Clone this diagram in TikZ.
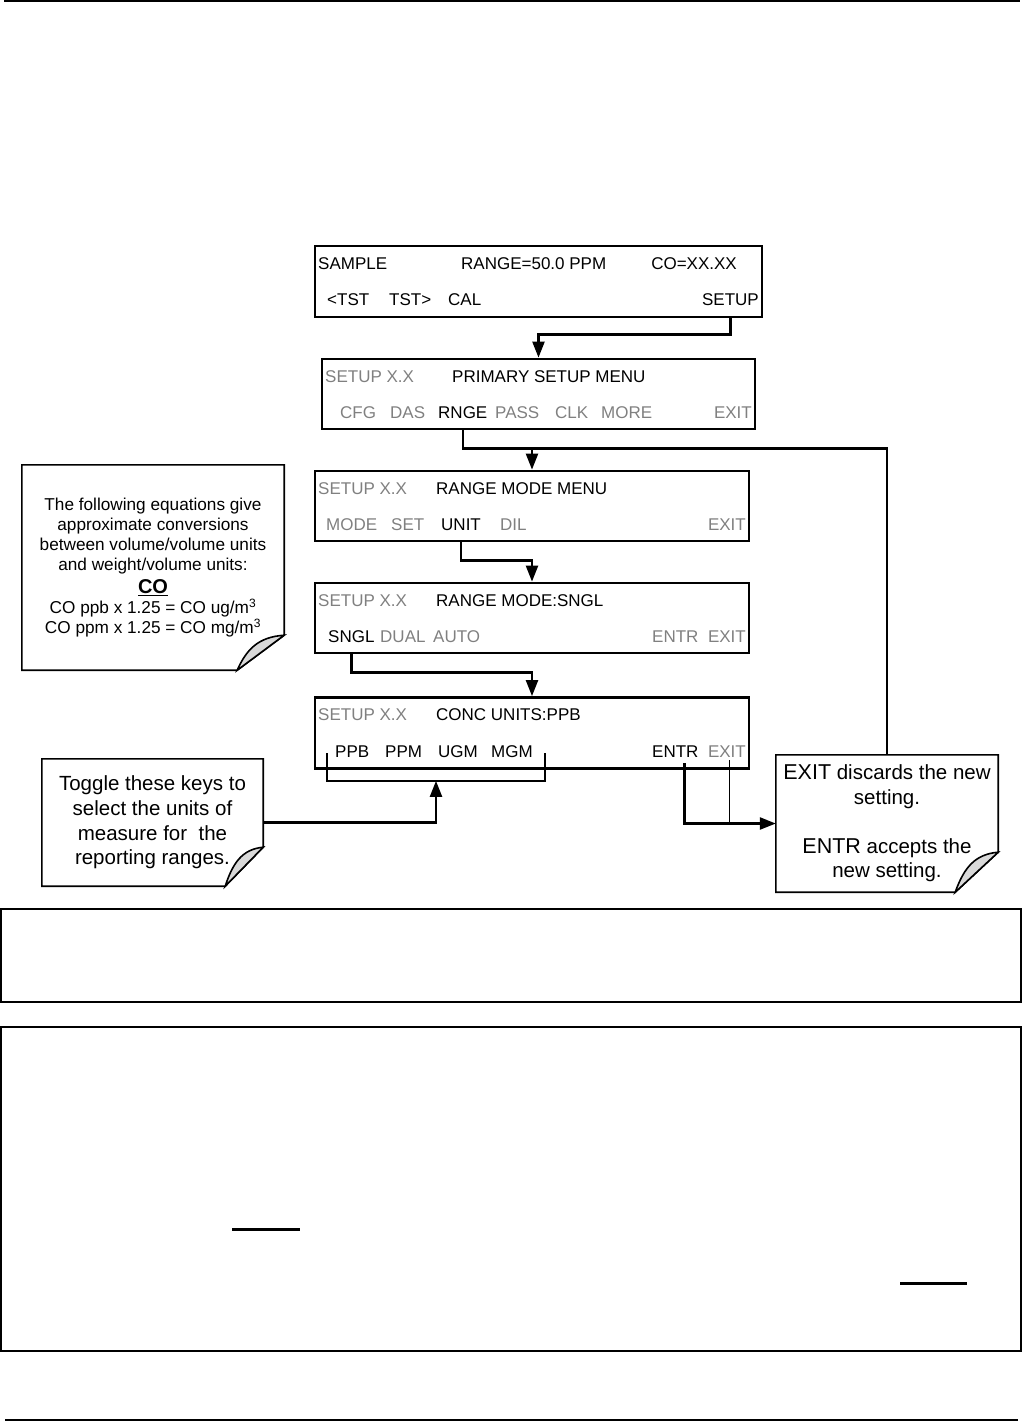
\documentclass[tikz,border=0pt]{standalone}
\usepackage{fontspec}
\setmainfont{Liberation Sans}
\usetikzlibrary{arrows.meta,calc}
\definecolor{lcdgray}{gray}{0.5}
\definecolor{flapgray}{gray}{0.85}
\begin{document}
\begin{tikzpicture}[x=1pt,y=-1pt,
  lcd/.style={draw,line width=2.8pt,inner sep=0pt},
  txt/.style={inner sep=0pt,anchor=base west,font=\fontsize{17}{20}\selectfont},
  dim/.style={txt,text=lcdgray},
  conn/.style={line width=2.4pt},
  thinconn/.style={line width=1.8pt},
  arr/.style={-{Triangle[length=16pt,width=12pt]}},
  notebox/.style={inner sep=0pt,align=center},
  noteline/.style={line width=1.6pt}
]
\useasboundingbox (0,0) rectangle (1023,1422);

% page rules
\draw[line width=2pt] (4,1) -- (1020,1);
\draw[line width=2pt] (5,1420) -- (1018,1420);
\draw[line width=1.5pt] (1,909) rectangle (1021,1002);
\draw[line width=1.5pt] (1,1027) rectangle (1021,1351);
\draw[line width=3pt] (232,1229) -- (300,1229);
\draw[line width=3pt] (900,1283) -- (967,1283);

% LCD boxes
\node[lcd,minimum width=447pt,minimum height=71pt] (b1) at (538.5,281.5) {};
\node[lcd,minimum width=433pt,minimum height=70pt] (b2) at (538.5,394) {};
\node[lcd,minimum width=434pt,minimum height=70pt] (b3) at (532,506) {};
\node[lcd,minimum width=434pt,minimum height=70pt] (b4) at (532,618) {};
\node[lcd,minimum width=434pt,minimum height=71pt] (b5) at (532,733) {};

% box 1
\node[txt] (t1a) at (318,269) {SAMPLE};
\node[txt] (t1b) at (461,269) {RANGE=50.0 PPM};
\node[txt,anchor=base east] (t1c) at (737,269) {CO=XX.XX};
\node[txt] (t1d) at (327,305) {<TST};
\node[txt] (t1e) at (389,305) {TST>};
\node[txt] (t1f) at (448,305) {CAL};
\node[txt,anchor=base east] (setup) at (759,305) {SETUP};

% box 2
\node[dim] (t2a) at (325,382) {SETUP X.X};
\node[txt] (t2b) at (452,382) {PRIMARY SETUP MENU};
\node[dim] (t2c) at (340,418) {CFG};
\node[dim] (t2d) at (390,418) {DAS};
\node[txt] (rnge) at (438,418) {RNGE};
\node[dim] (t2e) at (495,418) {PASS};
\node[dim] (t2f) at (555,418) {CLK};
\node[dim] (t2g) at (601,418) {MORE};
\node[dim,anchor=base east] (t2h) at (752,418) {EXIT};

% box 3
\node[dim] (t3a) at (318,494) {SETUP X.X};
\node[txt] (t3b) at (436,494) {RANGE MODE MENU};
\node[dim] (t3c) at (326,530) {MODE};
\node[dim] (t3d) at (391,530) {SET};
\node[txt] (unit) at (441,530) {UNIT};
\node[dim] (t3e) at (500,530) {DIL};
\node[dim,anchor=base east] (t3f) at (746,530) {EXIT};

% box 4
\node[dim] (t4a) at (318,606) {SETUP X.X};
\node[txt] (t4b) at (436,606) {RANGE MODE:SNGL};
\node[txt] (sngl) at (328,642) {SNGL};
\node[dim] (t4c) at (380,642) {DUAL};
\node[dim] (t4d) at (433,642) {AUTO};
\node[dim] (t4e) at (652,642) {ENTR};
\node[dim,anchor=base east] (t4f) at (746,642) {EXIT};

% box 5
\node[dim] (t5a) at (318,720) {SETUP X.X};
\node[txt] (t5b) at (436,720) {CONC UNITS:PPB};
\node[txt] (ppb) at (335,757) {PPB};
\node[txt] (ppm) at (385,757) {PPM};
\node[txt] (ugm) at (438,757) {UGM};
\node[txt] (mgm) at (491,757) {MGM};
\node[txt] (entr) at (652,757) {ENTR};
\node[dim,anchor=base east] (exit5) at (746,757) {EXIT};

% notes
\node[notebox,minimum width=262pt,minimum height=205pt,
  font=\fontsize{17.2}{20}\selectfont] (n1) at (153,567.5)
  {The following equations give\\ approximate conversions\\ between volume/volume units\\ and weight/volume units:\\[3pt]
   {\fontsize{20}{20}\selectfont\bfseries\underline{CO}}\\
   CO ppb x 1.25 = CO ug/m\textsuperscript{3}\\ CO ppm x 1.25 = CO mg/m\textsuperscript{3}};
\node[notebox,minimum width=221pt,minimum height=127pt,
  font=\fontsize{20.5}{24.7}\selectfont] (n2) at (152.5,822.5)
  {Toggle these keys to\\ select the units of\\ measure for \ the\\ reporting ranges.};
\node[notebox,minimum width=222pt,minimum height=137pt,
  font=\fontsize{20.5}{24.5}\selectfont] (n3) at (887,823.5)
  {{\fontsize{21.5}{24.5}\selectfont EXIT} discards the new\\ setting.\\[24.5pt]
   {\fontsize{21.5}{24.5}\selectfont ENTR} accepts the\\ new setting.};

% note outlines with folded corner
\foreach \n/\w/\h in {n1/47/35, n2/38/39, n3/43/40}{
  \draw[noteline] (\n.north west) -- (\n.north east) -- ($(\n.south east)+(0,-\h)$)
     .. controls ($(\n.south east)+(-0.4*\w,-0.6*\h)$) .. ($(\n.south east)+(-\w,0)$)
     -- (\n.south west) -- cycle;
  \draw[noteline,fill=flapgray] ($(\n.south east)+(0,-\h)$)
     .. controls ($(\n.south east)+(-0.55*\w,-0.95*\h)$) and ($(\n.south east)+(-0.8*\w,-0.6*\h)$)
     .. ($(\n.south east)+(-\w,0)$)
     .. controls ($(\n.south east)+(-0.4*\w,-0.6*\h)$) .. cycle;
}

% connectors
\draw[conn,arr] (b1.south -| setup.south) -- ++(0,16) -| (b2.north);

\coordinate (rj) at ($(b2.south -| rnge.south)+(0,18)$);
\draw[conn] (b2.south -| rnge.south) -- (rj) -| (n3.north);
\draw[conn,arr] (rj) -| (b3.north);

\draw[conn,arr] (b3.south -| unit.south) -- ++(0,18) -| (b4.north);
\draw[conn,arr] (b4.south -| sngl.south) -- ++(0,18) -| (b5.north);

% bracket under unit keys
\coordinate (brb) at ($(b5.south)+(0,11)$);
\coordinate (bl) at ($(ppb.base west)+(-8,-4)$);
\coordinate (br) at ($(mgm.base east)+(12,-4)$);
\draw[thinconn] (bl) -- (bl |- brb) -- (br |- brb) -- (br);
\coordinate (brin) at ($(ugm.base west |- brb)+(-2,0)$);
\draw[conn,arr] (n2.east) -| (brin);

% ENTR / EXIT to note 3
\coordinate (et) at ($(entr.base)+(9,6)$);
\coordinate (xt) at ($(exit5.base)+(2.5,3)$);
\draw[conn,arr] (et) |- (n3.west);
\draw[thinconn] (xt) -- (xt |- n3.west);
\end{tikzpicture}
\end{document}
